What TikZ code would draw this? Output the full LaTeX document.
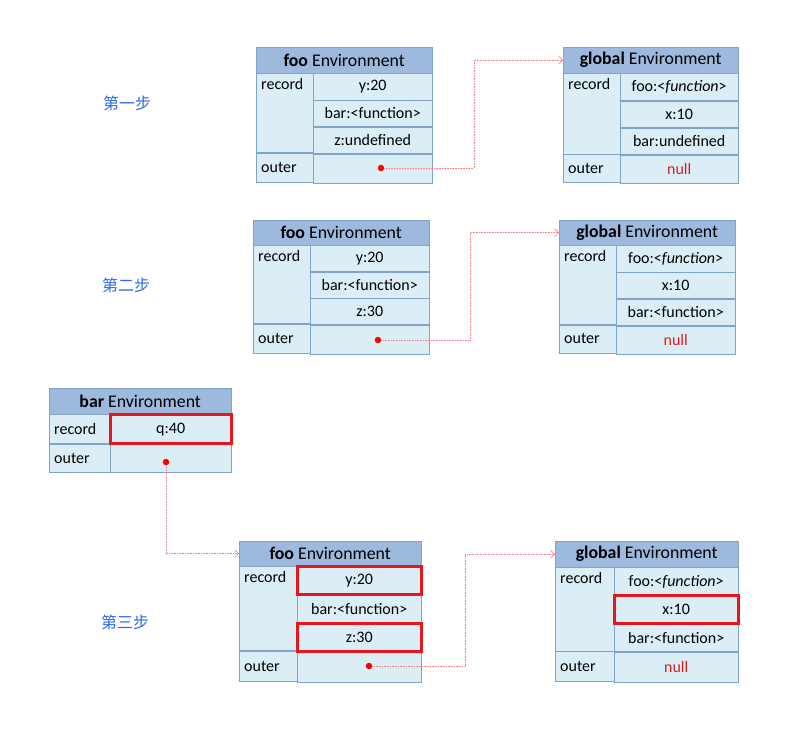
\documentclass[tikz,border=0pt]{standalone}
\usepackage{fontspec}
\setmainfont{Carlito}
\newfontfamily\cjk{Noto Sans CJK SC}
\usetikzlibrary{positioning,fit,arrows.meta}
\definecolor{headblue}{RGB}{157,185,221}
\definecolor{cellblue}{RGB}{220,238,245}
\definecolor{lineblue}{RGB}{128,163,200}
\definecolor{linkred}{RGB}{242,130,135}
\definecolor{hlred}{RGB}{232,22,28}
\definecolor{nullred}{RGB}{215,30,30}
\definecolor{stepblue}{RGB}{45,105,235}

\begin{document}
\begin{tikzpicture}[x=1pt,y=-1pt,
        every node/.style={font=\fontsize{16}{19}\selectfont},
        head/.style={draw=lineblue,fill=headblue,rectangle,inner sep=0pt,minimum height=26pt,font=\fontsize{17.8}{21}\selectfont},
        val/.style={draw=lineblue,fill=cellblue,rectangle,inner sep=0pt},
        key/.style={draw=lineblue,fill=cellblue,rectangle,inner sep=5pt,align=left},
        dot/.style={circle,fill=red,inner sep=0pt,minimum size=6.5pt},
        link/.style={linkred,densely dotted,semithick,-{Straight Barb[length=4pt,width=8pt]}},
        hl/.style={draw=hlred,line width=3pt,inner sep=0pt},
        steplbl/.style={text=stepblue,font=\cjk\fontsize{16}{19}\selectfont}
      ]
      \useasboundingbox (0,0) rectangle (788,729);

      % step labels
      \node[steplbl] (s1) at (127,103) {第一步};
      \node[steplbl] (s2) at (126,285) {第二步};
      \node[steplbl] (s3) at (125,622) {第三步};

      % step one: foo
      \begin{scope}[val/.append style={minimum width=119pt,minimum height=26.3pt},key/.append style={text width=47pt}]
        \node[head,minimum width=176pt,anchor=north west] (f1) at (256,47) {\textbf{foo} Environment};
        \node[val,below left=0pt and 0pt of f1.south east] (f1a) {y:20};
        \node[val,below=0pt of f1a] (f1b) {bar:<function>};
        \node[val,below=0pt of f1b] (f1c) {z:undefined};
        \node[val,below=0pt of f1c,minimum height=29pt] (f1o) {};
        \node[key,anchor=north west,minimum height=78.9pt,label={[anchor=north west,inner sep=5pt]north west:record}] (f1r) at (f1.south west) {};
        \node[key,anchor=north west,minimum height=29pt] (f1k) at (f1r.south west) {outer};
      \end{scope}

      % step one: global
      \begin{scope}[val/.append style={minimum width=118pt,minimum height=26.7pt},key/.append style={text width=47pt}]
        \node[head,minimum width=175pt,anchor=north west] (g1) at (563,47) {\textbf{global} Environment};
        \node[val,below left=0pt and 0pt of g1.south east] (g1a) {foo:<\textit{function}>};
        \node[val,below=0pt of g1a] (g1b) {x:10};
        \node[val,below=0pt of g1b] (g1c) {bar:undefined};
        \node[val,below=0pt of g1c,minimum height=28pt,text=nullred] (g1o) {null};
        \node[key,anchor=north west,minimum height=80.1pt,label={[anchor=north west,inner sep=5pt]north west:record}] (g1r) at (g1.south west) {};
        \node[key,anchor=north west,minimum height=28pt] (g1k) at (g1r.south west) {outer};
      \end{scope}

      % step two: foo
      \begin{scope}[val/.append style={minimum width=119pt,minimum height=26pt},key/.append style={text width=47pt}]
        \node[head,minimum width=176pt,minimum height=25pt,anchor=north west] (f2) at (253,220) {\textbf{foo} Environment};
        \node[val,below left=0pt and 0pt of f2.south east] (f2a) {y:20};
        \node[val,below=0pt of f2a] (f2b) {bar:<function>};
        \node[val,below=0pt of f2b] (f2c) {z:30};
        \node[val,below=0pt of f2c,minimum height=29pt] (f2o) {};
        \node[key,anchor=north west,minimum height=78pt,label={[anchor=north west,inner sep=5pt]north west:record}] (f2r) at (f2.south west) {};
        \node[key,anchor=north west,minimum height=29pt] (f2k) at (f2r.south west) {outer};
      \end{scope}

      % step two: global
      \begin{scope}[val/.append style={minimum width=119pt,minimum height=26.3pt},key/.append style={text width=47pt}]
        \node[head,minimum width=176pt,minimum height=25pt,anchor=north west] (g2) at (559,220) {\textbf{global} Environment};
        \node[val,below left=0pt and 0pt of g2.south east] (g2a) {foo:<\textit{function}>};
        \node[val,below=0pt of g2a] (g2b) {x:10};
        \node[val,below=0pt of g2b] (g2c) {bar:<function>};
        \node[val,below=0pt of g2c,minimum height=28pt,text=nullred] (g2o) {null};
        \node[key,anchor=north west,minimum height=78.9pt,label={[anchor=north west,inner sep=5pt]north west:record}] (g2r) at (g2.south west) {};
        \node[key,anchor=north west,minimum height=28pt] (g2k) at (g2r.south west) {outer};
      \end{scope}

      % step three: bar
      \begin{scope}[val/.append style={minimum width=121pt,minimum height=29pt},key/.append style={text width=51pt}]
        \node[head,minimum width=182pt,anchor=north west] (b3) at (49,388) {\textbf{bar} Environment};
        \node[val,below left=0pt and 0pt of b3.south east] (b3a) {q:40};
        \node[val,below=0pt of b3a,minimum height=28pt] (b3o) {};
        \node[key,anchor=north west,minimum height=29pt] (b3r) at (b3.south west) {record};
        \node[key,anchor=north west,minimum height=28pt] (b3k) at (b3r.south west) {outer};
      \end{scope}

      % step three: foo
      \begin{scope}[val/.append style={minimum width=124pt,minimum height=28pt},key/.append style={text width=48pt}]
        \node[head,minimum width=182pt,minimum height=25pt,anchor=north west] (f3) at (239,541) {\textbf{foo} Environment};
        \node[val,below left=0pt and 0pt of f3.south east] (f3a) {y:20};
        \node[val,below=0pt of f3a] (f3b) {bar:<function>};
        \node[val,below=0pt of f3b] (f3c) {z:30};
        \node[val,below=0pt of f3c,minimum height=30pt] (f3o) {};
        \node[key,anchor=north west,minimum height=84pt,label={[anchor=north west,inner sep=5pt]north west:record}] (f3r) at (f3.south west) {};
        \node[key,anchor=north west,minimum height=30pt] (f3k) at (f3r.south west) {outer};
      \end{scope}

      % step three: global
      \begin{scope}[val/.append style={minimum width=124pt,minimum height=27.7pt},key/.append style={text width=49pt}]
        \node[head,minimum width=183pt,anchor=north west] (g3) at (555,541) {\textbf{global} Environment};
        \node[val,below left=0pt and 0pt of g3.south east] (g3a) {foo:<\textit{function}>};
        \node[val,below=0pt of g3a] (g3b) {x:10};
        \node[val,below=0pt of g3b] (g3c) {bar:<function>};
        \node[val,below=0pt of g3c,minimum height=30pt,text=nullred] (g3o) {null};
        \node[key,anchor=north west,minimum height=83.1pt,label={[anchor=north west,inner sep=5pt]north west:record}] (g3r) at (g3.south west) {};
        \node[key,anchor=north west,minimum height=30pt] (g3k) at (g3r.south west) {outer};
      \end{scope}

      % highlighted cells
      \node[hl,fit=(b3a)] (h1) {};
      \node[hl,fit=(f3a)] (h2) {};
      \node[hl,fit=(f3c)] (h3) {};
      \node[hl,fit=(g3b)] (h4) {};

      % outer pointers
      \node[dot] (d1) at (381,168) {};
      \node[dot] (d2) at (378,340) {};
      \node[dot] (d3) at (166,462) {};
      \node[dot] (d4) at (369,666) {};
      \draw[link] (d1) -- ++(93,0) |- (g1.west);
      \draw[link] (d2) -- ++(92,0) |- (g2.west);
      \draw[link] (d3) |- (f3.west);
      \draw[link] (d4) -- ++(96,0) |- (g3.west);
\end{tikzpicture}
\end{document}
